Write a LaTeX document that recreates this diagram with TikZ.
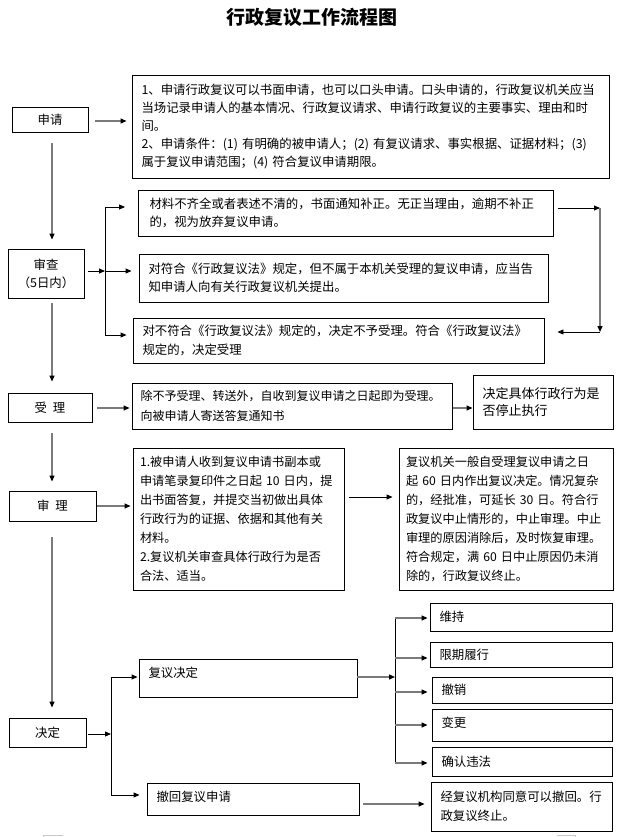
\documentclass[tikz,border=0pt]{standalone}
\usepackage{fontspec}
\setmainfont{Noto Sans CJK SC}
\usetikzlibrary{arrows.meta,calc}
\definecolor{lg}{HTML}{7A7A7A}
\definecolor{cornermk}{HTML}{C8C8C8}
\begin{document}
\begin{tikzpicture}[x=1pt,y=-1pt,
  txt/.style={font=\fontsize{12.4}{18.5}\selectfont},
  bx/.style={draw=black, line width=0.9pt, inner xsep=9.5pt, inner ysep=0pt, align=left, txt},
  sbx/.style={draw=black, line width=0.9pt, inner sep=0pt, align=center, txt},
  ga/.style={draw=lg, line width=1.3pt, -{Triangle[length=6pt,width=5pt,color=black]}},
  ka/.style={draw=black, line width=0.9pt, -{Triangle[length=6pt,width=5pt,color=black]}},
  kl/.style={draw=black, line width=0.9pt},
  gl/.style={draw=lg, line width=1.3pt}]
\fill[white] (0,0) rectangle (629,837);
\useasboundingbox (0,0) rectangle (629,837);

\node[font=\bfseries\fontsize{19}{19}\selectfont] (title) at (312,17) {行政复议工作流程图};

% left column boxes
\node[sbx, minimum width=76pt, minimum height=25pt] (sq) at (50,119.5) {申请};
\node[sbx, minimum width=76pt, minimum height=49pt, font=\fontsize{12.4}{18}\selectfont] (sc) at (46,273.5) {审查\\（5日内）};
\node[sbx, minimum width=84pt, minimum height=29pt] (sl) at (50,407.5) {受\hspace{6pt}理};
\node[sbx, minimum width=87pt, minimum height=30pt] (sh) at (52.5,506) {审\hspace{6pt}理};
\node[sbx, minimum width=77pt, minimum height=29pt] (jd) at (47.5,732.5) {决定};

% text boxes
\node[bx, text width=458pt, minimum height=103pt, font=\fontsize{12.4}{18.2}\selectfont] (b1) at (370.5,126.5)
  {1、申请行政复议可以书面申请，也可以口头申请。口头申请的，行政复议机关应当\\
   当场记录申请人的基本情况、行政复议请求、申请行政复议的主要事实、理由和时\\
   间。\\
   2、申请条件：(1)~有明确的被申请人；(2)~有复议请求、事实根据、证据材料；(3)\\
   属于复议申请范围；(4)~符合复议申请期限。};
\node[bx, text width=393pt, minimum height=46pt, inner xsep=11pt] (b2) at (346,213)
  {材料不齐全或者表述不清的，书面通知补正。无正当理由，逾期不补正\\的，视为放弃复议申请。};
\node[bx, text width=390pt, minimum height=48pt] (b3) at (343.5,278)
  {对符合《行政复议法》规定，但不属于本机关受理的复议申请，应当告\\知申请人向有关行政复议机关提出。};
\node[bx, text width=392pt, minimum height=45pt] (b4) at (338.5,340.5)
  {对不符合《行政复议法》规定的，决定不予受理。符合《行政复议法》\\规定的，决定受理};
\node[bx, text width=303pt, minimum height=46pt, inner xsep=8.5pt, font=\fontsize{12}{20}\selectfont] (b5) at (292,406)
  {除不予受理、转送外，自收到复议申请之日起即为受理。\\向被申请人寄送答复通知书};
\node[bx, text width=121pt, minimum height=54pt, font=\fontsize{13}{17.5}\selectfont] (b6) at (543,402)
  {决定具体行政行为是\\否停止执行};
\node[bx, text width=197pt, minimum height=142pt, inner xsep=7pt, font=\fontsize{12.2}{18.9}\selectfont] (b7) at (238.5,519)
  {1.被申请人收到复议申请书副本或\\
   申请笔录复印件之日起~10~日内，提\\
   出书面答复，并提交当初做出具体\\
   行政行为的证据、依据和其他有关\\
   材料。\\
   2.复议机关审查具体行政行为是否\\
   合法、适当。};
\node[bx, text width=200pt, minimum height=142pt, inner xsep=7pt, font=\fontsize{12.2}{18.9}\selectfont] (b8) at (506,519)
  {复议机关一般自受理复议申请之日\\
   起~60~日内作出复议决定。情况复杂\\
   的，经批准，可延长~30~日。符合行\\
   政复议中止情形的，中止审理。中止\\
   审理的原因消除后，及时恢复审理。\\
   符合规定，满~60~日中止原因仍未消\\
   除的，行政复议终止。};

\node[bx, text width=199pt, minimum height=38pt, text depth=11pt] (fy) at (248,678) {复议决定};
\node[bx, text width=193pt, minimum height=32pt, text depth=5pt] (ch) at (253,799) {撤回复议申请};

\node[bx, text width=163pt, minimum height=28pt] (r1) at (521,617) {维持};
\node[bx, text width=163pt, minimum height=25pt] (r2) at (521,654.5) {限期履行};
\node[bx, text width=161pt, minimum height=26pt] (r3) at (522,690) {撤销};
\node[bx, text width=161pt, minimum height=32pt, text depth=5pt] (r4) at (522,725) {变更};
\node[bx, text width=161pt, minimum height=29pt] (r5) at (522,761.5) {确认违法};
\node[bx, text width=162pt, minimum height=49pt] (r6) at (521.5,806.5) {经复议机构同意可以撤回。行\\政复议终止。};

% coordinates
\coordinate (cx) at (52,0);
\coordinate (j1) at (105,271);
\coordinate (j1t) at (105,207);
\coordinate (j1b) at (105,335);
\coordinate (lp1) at (600,208);
\coordinate (lp2) at (600,332);
\coordinate (j2) at (111,734);
\coordinate (j2t) at (111,677);
\coordinate (j2b) at (111,795);
\coordinate (j3) at (395,677);
\coordinate (q1) at (395,618);
\coordinate (q2) at (395,658);
\coordinate (q3) at (395,692);
\coordinate (q4) at (395,725);
\coordinate (q5) at (395,763);
\coordinate (q6) at (380,804);

% connectors
\draw[ga] ($(sq.east)+(7,1.5)$) -- ($(sq.east -| b1.west)+(-5,1.5)$);
\draw[ga] ($(sq.south -| cx)+(0,11)$) -- ($(sc.north -| cx)+(0,-9)$);

\draw[ka] ($(sc.east |- j1)+(4,0)$) -- (j1);
\draw[kl] (j1t) -- (j1b);
\draw[ka] (j1t) -- ($(j1t -| b2.west)+(-13,0)$);
\draw[ka] (j1) -- ($(j1 -| b3.west)+(-7,0)$);
\draw[ka] (j1b) -- ($(j1b -| b4.west)+(-6,0)$);

\draw[ka] ($(b2.east |- lp1)+(4,0)$) -- (lp1);
\draw[ga] (lp1) -- (lp2);
\draw[ka] (lp2) -- ($(lp2 -| b4.east)+(13,0)$);

\draw[ga] ($(sc.south -| cx)+(0,5)$) -- ($(sl.north -| cx)+(0,-11)$);
\draw[ga] ($(sl.east)+(5,0.5)$) -- ($(sl.east -| b5.west)+(-2,0.5)$);
\draw[ga] ($(b5.east)+(1,2)$) -- ($(b5.east -| b6.west)+(0,2)$);

\draw[ga] ($(sl.south -| cx)+(0,11)$) -- ($(sh.north -| cx)+(0,-9)$);
\draw[ga] ($(sh.east)+(1,0)$) -- ($(sh.east -| b7.west)+(-2,0)$);
\draw[ka] ($(b7.east)+(5,-22)$) -- ($(b7.east -| b8.west)+(-6,-22)$);

\draw[ga] ($(sh.south -| cx)+(0,16)$) -- ($(jd.north -| cx)+(0,-10)$);
\draw[ka] ($(jd.east |- j2)+(2,0)$) -- (j2);
\draw[kl] (j2t) -- (j2b);
\draw[ka] (j2t) -- ($(j2t -| fy.west)+(-1,0)$);
\draw[ka] (j2b) -- ($(j2b -| ch.west)+(-7,0)$);

\draw[ga] (fy.east |- j3) -- (j3);
\draw[kl] (q1) -- (q5);
\draw[ga] (q1) -- ($(q1 -| r1.west)+(-2,0)$);
\draw[ga] (q2) -- ($(q2 -| r2.west)+(-2,0)$);
\draw[ga] (q3) -- ($(q3 -| r3.west)+(-4,0)$);
\draw[ga] (q4) -- ($(q4 -| r4.west)+(-4,0)$);
\draw[ga] (q5) -- ($(q5 -| r5.west)+(-4,0)$);
\draw[ga] ($(ch.east |- q6)+(4,0)$) -- ($(q6 -| r6.west)+(-6,0)$);

% page corner marks
\draw[draw=cornermk, line width=1pt] (43,837) -- (43,835) -- (63,835);
\draw[draw=cornermk, line width=1pt] (557,835) -- (575,835) -- (575,837);
\end{tikzpicture}
\end{document}
